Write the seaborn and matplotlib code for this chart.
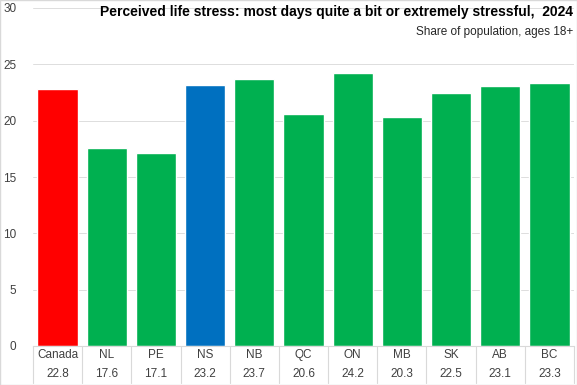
import matplotlib
matplotlib.use("Agg")
import matplotlib.pyplot as plt
import matplotlib.transforms as mtransforms
import seaborn as sns
import pandas as pd

# data
regions = ["Canada", "NL", "PE", "NS", "NB", "QC", "ON", "MB", "SK", "AB", "BC"]
stress = [22.8, 17.6, 17.1, 23.2, 23.7, 20.6, 24.2, 20.3, 22.5, 23.1, 23.3]
bar_colors = ["#FF0000", "#00B050", "#00B050", "#0070C0", "#00B050", "#00B050",
              "#00B050", "#00B050", "#00B050", "#00B050", "#00B050"]

df = pd.DataFrame({"region": regions, "stress": stress})

sns.set_style("white")
plt.rcParams["font.family"] = ["Liberation Sans Narrow", "Liberation Sans", "DejaVu Sans"]

fig = plt.figure(figsize=(5.77, 3.85), dpi=100)
ax = fig.add_axes([33 / 577, 39 / 385, 541 / 577, 338 / 385])

sns.barplot(data=df, x="region", y="stress", hue="region", palette=bar_colors,
            legend=False, width=0.82, saturation=1, ax=ax)

ax.set_ylim(0, 30)
ax.set_xlim(-0.5, len(regions) - 0.5)
ax.set_yticks(range(0, 31, 5))
ax.yaxis.grid(True, color="#DDDDDD", linewidth=0.7)
ax.set_axisbelow(True)
for side in ["top", "right", "left"]:
    ax.spines[side].set_visible(False)
ax.spines["bottom"].set_color("#D9D9D9")
ax.tick_params(axis="y", length=0, labelsize=8.5, colors="#404040", pad=12)
ax.set_xticks([])
ax.set_xlabel("")
ax.set_ylabel("")

# data table under the bars
trans = mtransforms.blended_transform_factory(ax.transData, ax.transAxes)
for i in range(len(regions) + 1):
    ax.plot([i - 0.5, i - 0.5], [0, -0.108], transform=trans, color="#D9D9D9",
            linewidth=0.8, clip_on=False)
for i, (r, v) in enumerate(zip(regions, stress)):
    ax.text(i, -0.028, r, transform=trans, ha="center", va="center",
            fontsize=8.5, color="#404040")
    ax.text(i, -0.083, f"{v:.1f}", transform=trans, ha="center", va="center",
            fontsize=8.5, color="#404040")

fig.text(0.993, 0.968, "Perceived life stress: most days quite a bit or extremely stressful,  2024",
         ha="right", va="center", fontsize=10, fontweight="bold", color="black")
fig.text(0.993, 0.918, "Share of population, ages 18+", ha="right", va="center",
         fontsize=8.5, color="#262626")

fig.patches.append(plt.Rectangle((0, 0), 1, 1, transform=fig.transFigure, fill=False,
                                 edgecolor="#D9D9D9", linewidth=1))

fig.savefig("out.png", dpi=100)
